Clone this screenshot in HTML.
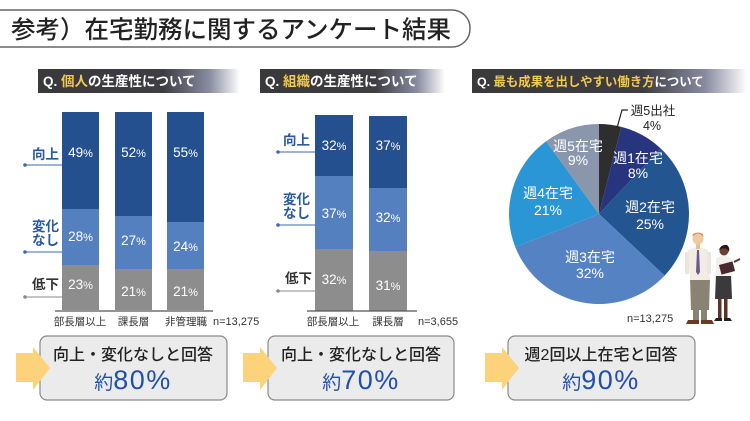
<!DOCTYPE html>
<html><head><meta charset="utf-8">
<style>
html,body{margin:0;padding:0;background:#fff;}
svg{display:block;}
text{font-family:"Liberation Sans","Noto Sans CJK JP",sans-serif;}
</style></head>
<body>
<svg width="750" height="421" viewBox="0 0 750 421" xmlns="http://www.w3.org/2000/svg">
<defs>
<linearGradient id="hg" x1="0" x2="1" y1="0" y2="0">
<stop offset="0" stop-color="#3a3a3c"/>
<stop offset="0.62" stop-color="#3d3d42"/>
<stop offset="0.85" stop-color="#8a8ca2"/>
<stop offset="1" stop-color="#ffffff"/>
</linearGradient>
</defs>

<!-- Title -->
<rect x="-20" y="10" width="490" height="37" rx="18" ry="18" fill="#fff" stroke="#666" stroke-width="1.5"/>
<text x="11" y="38" font-size="24.5" fill="#222" font-weight="500">参考）在宅勤務に関するアンケート結果</text>

<!-- Headers -->
<rect x="38" y="69" width="202" height="24" fill="url(#hg)"/>
<text x="43" y="86" font-size="13.5" font-weight="bold" fill="#fff">Q. <tspan fill="#f2c94c">個人</tspan>の生産性について</text>
<rect x="260" y="69" width="185" height="24" fill="url(#hg)"/>
<text x="265" y="86" font-size="13.5" font-weight="bold" fill="#fff">Q. <tspan fill="#f2c94c">組織</tspan>の生産性について</text>
<rect x="472" y="69" width="275" height="24" fill="url(#hg)"/>
<text x="477" y="86" font-size="12.4" font-weight="bold" fill="#fff">Q. <tspan fill="#f2c94c">最も成果を出しやすい働き方</tspan>について</text>

<!-- Chart 1 -->
<g>
<rect x="62" y="112" width="37" height="97" fill="#24508f"/>
<rect x="62" y="209" width="37" height="56" fill="#5580c0"/>
<rect x="62" y="265" width="37" height="45" fill="#8d8d8d"/>
<rect x="115" y="112" width="37" height="104" fill="#24508f"/>
<rect x="115" y="216" width="37" height="53" fill="#5580c0"/>
<rect x="115" y="269" width="37" height="41" fill="#8d8d8d"/>
<rect x="167" y="112" width="37" height="110" fill="#24508f"/>
<rect x="167" y="222" width="37" height="47" fill="#5580c0"/>
<rect x="167" y="269" width="37" height="41" fill="#8d8d8d"/>
<line x1="55" y1="311" x2="213" y2="311" stroke="#555" stroke-width="1.2"/>
<g font-size="13.5" fill="#fff" text-anchor="middle">
<text x="80.5" y="157">49<tspan font-size="11">%</tspan></text>
<text x="80.5" y="241">28<tspan font-size="11">%</tspan></text>
<text x="80.5" y="289">23<tspan font-size="11">%</tspan></text>
<text x="133.5" y="157">52<tspan font-size="11">%</tspan></text>
<text x="133.5" y="245">27<tspan font-size="11">%</tspan></text>
<text x="133.5" y="296">21<tspan font-size="11">%</tspan></text>
<text x="185.5" y="157">55<tspan font-size="11">%</tspan></text>
<text x="185.5" y="251">24<tspan font-size="11">%</tspan></text>
<text x="185.5" y="296">21<tspan font-size="11">%</tspan></text>
</g>
<g font-size="13.5" font-weight="bold">
<text x="32" y="159" fill="#2a5aa0">向上</text>
<text x="32" y="231" fill="#2a5aa0">変化</text>
<text x="32" y="245" fill="#2a5aa0">なし</text>
<text x="32" y="289" fill="#333">低下</text>
</g>
<line x1="25" y1="165" x2="62" y2="165" stroke="#3a6ab0" stroke-width="1"/>
<circle cx="25" cy="165" r="1.8" fill="#3a6ab0"/>
<line x1="25" y1="252" x2="62" y2="252" stroke="#3a6ab0" stroke-width="1"/>
<circle cx="25" cy="252" r="1.8" fill="#3a6ab0"/>
<line x1="25" y1="297" x2="62" y2="297" stroke="#888" stroke-width="1"/>
<circle cx="25" cy="297" r="1.8" fill="#888"/>
<g font-size="10.5" fill="#333" text-anchor="middle">
<text x="80" y="325">部長層以上</text>
<text x="133.5" y="325">課長層</text>
<text x="186" y="325">非管理職</text>
</g>
<text x="213" y="325" font-size="11" fill="#333">n=13,275</text>
</g>

<!-- Chart 2 -->
<g>
<rect x="315" y="115" width="38" height="61" fill="#24508f"/>
<rect x="315" y="176" width="38" height="73" fill="#5580c0"/>
<rect x="315" y="249" width="38" height="62" fill="#8d8d8d"/>
<rect x="369" y="116" width="38" height="72" fill="#24508f"/>
<rect x="369" y="188" width="38" height="63" fill="#5580c0"/>
<rect x="369" y="251" width="38" height="60" fill="#8d8d8d"/>
<line x1="307" y1="311" x2="417" y2="311" stroke="#555" stroke-width="1.2"/>
<g font-size="13.5" fill="#fff" text-anchor="middle">
<text x="334" y="150">32<tspan font-size="11">%</tspan></text>
<text x="334" y="218">37<tspan font-size="11">%</tspan></text>
<text x="334" y="284">32<tspan font-size="11">%</tspan></text>
<text x="388" y="150">37<tspan font-size="11">%</tspan></text>
<text x="388" y="222">32<tspan font-size="11">%</tspan></text>
<text x="388" y="290">31<tspan font-size="11">%</tspan></text>
</g>
<g font-size="13.5" font-weight="bold">
<text x="283" y="145" fill="#2a5aa0">向上</text>
<text x="283" y="204" fill="#2a5aa0">変化</text>
<text x="283" y="218" fill="#2a5aa0">なし</text>
<text x="285" y="283" fill="#333">低下</text>
</g>
<line x1="278" y1="152" x2="315" y2="152" stroke="#3a6ab0" stroke-width="1"/>
<circle cx="278" cy="152" r="1.8" fill="#3a6ab0"/>
<line x1="278" y1="225" x2="315" y2="225" stroke="#3a6ab0" stroke-width="1"/>
<circle cx="278" cy="225" r="1.8" fill="#3a6ab0"/>
<line x1="278" y1="291" x2="315" y2="291" stroke="#888" stroke-width="1"/>
<circle cx="278" cy="291" r="1.8" fill="#888"/>
<g font-size="10.5" fill="#333" text-anchor="middle">
<text x="333" y="325">部長層以上</text>
<text x="388" y="325">課長層</text>
</g>
<text x="418" y="325" font-size="11" fill="#333">n=3,655</text>
</g>

<!-- Pie -->
<g>
<path d="M599,214 L599,124 A90,90 0 0 1 621.38,126.83 Z" fill="#2e2e2e"/>
<path d="M599,214 L621.38,126.83 A90,90 0 0 1 660.61,148.39 Z" fill="#27357f"/>
<path d="M599,214 L660.61,148.39 A90,90 0 0 1 664.61,275.61 Z" fill="#235591"/>
<path d="M599,214 L664.61,275.61 A90,90 0 0 1 515.32,247.13 Z" fill="#5482c3"/>
<path d="M599,214 L515.32,247.13 A90,90 0 0 1 546.10,141.19 Z" fill="#2b96d6"/>
<path d="M599,214 L546.10,141.19 A90,90 0 0 1 599,124 Z" fill="#8a96ab"/>
<polyline points="628,110 622,110 617,128" fill="none" stroke="#222" stroke-width="1.2"/>
<g font-size="12.5" fill="#222" text-anchor="middle">
<text x="653" y="115">週5出社</text>
<text x="652" y="130">4%</text>
</g>
<g font-size="14" fill="#fff" text-anchor="middle">
<text x="638" y="163">週1在宅</text>
<text x="638" y="178">8%</text>
<text x="650" y="212">週2在宅</text>
<text x="650" y="229">25%</text>
<text x="590" y="262">週3在宅</text>
<text x="590" y="278">32%</text>
<text x="548" y="198">週4在宅</text>
<text x="548" y="215">21%</text>
<text x="578" y="151">週5在宅</text>
<text x="578" y="165">9%</text>
</g>
<text x="627" y="322" font-size="11" fill="#333">n=13,275</text>
</g>

<!-- People -->
<g>
<rect x="693" y="308" width="6" height="13" fill="#8a8272"/>
<rect x="701" y="308" width="6" height="13" fill="#8a8272"/>
<path d="M690,278 L710,278 L709,310 L691,310 Z" fill="#8a8272"/>
<path d="M688,250 Q698,245 708,250 L710,280 L690,280 Z" fill="#f1ece4"/>
<rect x="685" y="252" width="4" height="22" fill="#ebe6dd"/>
<rect x="707" y="252" width="4" height="22" fill="#ebe6dd"/>
<path d="M697,250 L699,250 L700,272 L698,275 L696,272 Z" fill="#6b5a8c"/>
<rect x="696" y="244" width="4" height="5" fill="#e9bf98"/>
<circle cx="698" cy="239" r="5.5" fill="#efc9a3"/>
<path d="M692.5,237 Q698,230 703.5,237 L703,234 Q698,231 693,234 Z" fill="#c99256"/>
<path d="M688,320 L699,320 L699,324 L686,324 Z" fill="#6a3a22"/>
<path d="M701,320 L712,320 L714,324 L701,324 Z" fill="#6a3a22"/>
<rect x="718" y="296" width="3.5" height="22" fill="#5a3526"/>
<rect x="724" y="296" width="3.5" height="22" fill="#5a3526"/>
<path d="M716,274 L731,274 L732,299 L715,299 Z" fill="#3a3a3c"/>
<path d="M716,258 Q724,254 731,258 L732,276 L716,276 Z" fill="#f3f0ec"/>
<rect x="720" y="263" width="14" height="10" fill="#4a2a2e" transform="rotate(-15 727 268)"/>
<line x1="734" y1="262" x2="740" y2="259" stroke="#5a3526" stroke-width="2"/>
<circle cx="724" cy="251" r="4.5" fill="#6a4030"/>
<path d="M719,250 Q721,244 727,245 Q730,247 729,252 Q727,247 721,249 Z" fill="#2a1a12"/>
<path d="M716,318 L722,318 L722,321 L714,321 Z" fill="#222"/>
<path d="M724,318 L730,318 L732,321 L724,321 Z" fill="#222"/>
</g>

<!-- Boxes -->
<g>
<rect x="40" y="336" width="187" height="64" rx="7" fill="#ebebeb" stroke="#8a8a8a" stroke-width="1.2"/>
<rect x="268" y="336" width="186" height="64" rx="7" fill="#ebebeb" stroke="#8a8a8a" stroke-width="1.2"/>
<rect x="508" y="336" width="187" height="64" rx="7" fill="#ebebeb" stroke="#8a8a8a" stroke-width="1.2"/>
</g>

<!-- Arrows -->
<g fill="#fcd27a">
<rect x="16" y="353" width="19" height="29"/>
<polygon points="33,347 50,368 33,390"/>
<rect x="243" y="353" width="19" height="29"/>
<polygon points="260,347 277,368 260,390"/>
<rect x="485" y="353" width="19" height="29"/>
<polygon points="502,347 519,368 502,390"/>
</g>

<g font-size="16" fill="#222" text-anchor="middle" font-weight="500">
<text x="133" y="360">向上・変化なしと回答</text>
<text x="361" y="360">向上・変化なしと回答</text>
<text x="601" y="360">週2回以上在宅と回答</text>
</g>
<g fill="#2150a8" text-anchor="middle">
<text x="133" y="389"><tspan font-size="19">約</tspan><tspan font-size="27" letter-spacing="1.5">80%</tspan></text>
<text x="361" y="389"><tspan font-size="19">約</tspan><tspan font-size="27" letter-spacing="1.5">70%</tspan></text>
<text x="601" y="389"><tspan font-size="19">約</tspan><tspan font-size="27" letter-spacing="1.5">90%</tspan></text>
</g>
</svg>
</body></html>
